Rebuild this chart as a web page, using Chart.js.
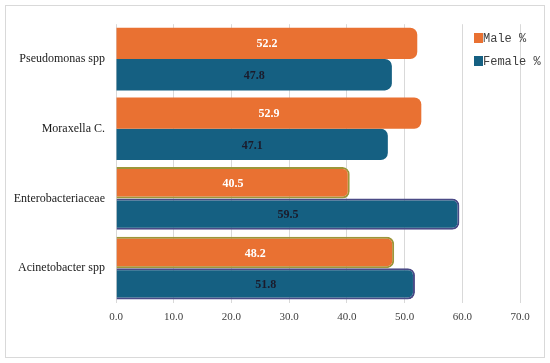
<!DOCTYPE html>
<html>
<head>
<meta charset="utf-8">
<script src="https://cdn.jsdelivr.net/npm/chart.js@4/dist/chart.umd.min.js"></script>
<style>
  body { margin: 0; background: #fff; }
  #frame { position: absolute; left: 5px; top: 5px; width: 538px; height: 351px; border: 1px solid #d9d9d9; }
  canvas { display: block; }
  .leg { position: absolute; font-family: "Liberation Mono", "DejaVu Sans Mono", monospace; font-size: 12px; color: #404040; line-height: 12px; }
  .leg span { display: inline-block; width: 9px; height: 10px; vertical-align: -1px; }
</style>
</head>
<body>
<div id="frame">
  <canvas id="grafico" width="538" height="351"></canvas>
</div>
<div class="leg" style="left:474px; top:33px;"><span style="background:#E97132"></span>Male %</div>
<div class="leg" style="left:474px; top:56px;"><span style="background:#156082"></span>Female %</div>
<script>
// dados
var categorias = ['Pseudomonas spp', 'Moraxella C.', 'Enterobacteriaceae', 'Acinetobacter spp'];
var valoresMale = [52.2, 52.9, 40.5, 48.2];
var valoresFemale = [47.8, 47.1, 59.5, 51.8];
var ticksX = [0, 10, 20, 30, 40, 50, 60, 70];

// rótulos de valor no meio de cada barra
var rotulosBarras = {
    id: 'rotulosBarras',
    afterDatasetsDraw: function(chart) {
        var ctx = chart.ctx;
        ctx.save();
        ctx.font = 'bold 12px "Liberation Serif", serif';
        ctx.textAlign = 'center';
        ctx.textBaseline = 'middle';
        chart.data.datasets.forEach(function(ds, i) {
            chart.getDatasetMeta(i).data.forEach(function(bar, j) {
                var x0 = bar.base, x1 = bar.x;
                ctx.fillStyle = i === 0 ? '#ffffff' : '#1b1b2b';
                ctx.fillText(ds.data[j].toFixed(1), (x0 + x1) / 2, bar.y + 1);
            });
        });
        ctx.restore();
    }
};

var ctx = document.getElementById('grafico').getContext('2d');
new Chart(ctx, {
    type: 'bar',
    data: {
        labels: categorias,
        datasets: [{
            label: 'Male %',
            data: valoresMale,
            backgroundColor: '#E97132',
            borderColor: ['#E97132', '#E97132', '#9c963a', '#9c963a'],
            borderWidth: [0, 0, 2, 2],
            borderRadius: 7,
            borderSkipped: 'start'
        }, {
            label: 'Female %',
            data: valoresFemale,
            backgroundColor: '#156082',
            borderColor: ['#156082', '#156082', '#4a4a86', '#4a4a86'],
            borderWidth: [0, 0, 2, 2],
            borderRadius: 7,
            borderSkipped: 'start'
        }]
    },
    options: {
        indexAxis: 'y',
        responsive: false,
        animation: false,
        categoryPercentage: 0.9,
        barPercentage: 1.0,
        layout: { padding: { left: 0, right: 24, top: 15, bottom: 32 } },
        plugins: {
            legend: { display: false },
            tooltip: { enabled: false }
        },
        scales: {
            x: {
                min: 0,
                max: 70,
                afterBuildTicks: function(scale) {
                    scale.ticks = ticksX.map(function(v) { return { value: v }; });
                },
                afterFit: function(scale) { scale.height = 22; },
                grid: { color: '#d9d9d9', drawTicks: false },
                border: { display: false },
                ticks: {
                    padding: 8,
                    color: '#404040',
                    font: { family: '"Liberation Serif", serif', size: 11 },
                    callback: function(v) { return Number(v).toFixed(1); }
                }
            },
            y: {
                afterFit: function(scale) { scale.width = 110; },
                grid: { display: false, drawTicks: false },
                border: { display: false },
                ticks: {
                    padding: 11,
                    color: '#1a1a1a',
                    font: { family: '"Liberation Serif", serif', size: 12 }
                }
            }
        }
    },
    plugins: [rotulosBarras]
});
</script>
</body>
</html>
